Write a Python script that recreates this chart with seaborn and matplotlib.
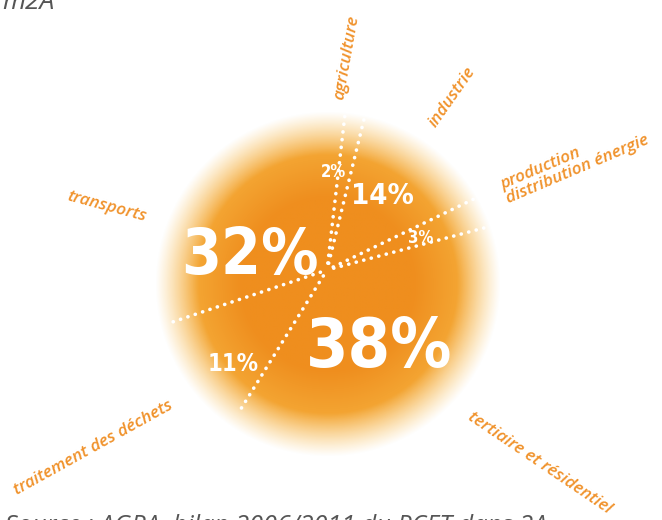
import numpy as np
import matplotlib
matplotlib.use("Agg")
import matplotlib.pyplot as plt
import seaborn as sns

# ---- data ----
sectors = ["production\ndistribution énergie", "industrie", "agriculture",
           "transports", "traitement des déchets", "tertiaire et résidentiel"]
shares = [3, 14, 2, 32, 11, 38]
title_text = "m2A"
source_text = "Source : AGRA, bilan 2006/2011 du PCET dans 2A"

sns.set_theme(style="white")
plt.rcParams["font.family"] = ["Open Sans", "DejaVu Sans"]

W, H = 662, 520
fig = plt.figure(figsize=(W / 100, H / 100), dpi=100)
ax = fig.add_axes([0, 0, 1, 1])

def Y(py):
    return H - py

# gradient disc
cx, cy, R = 328, Y(284), 173
n = 400
xs = np.linspace(-1, 1, n)
XX, YY = np.meshgrid(xs, xs)
rr = np.sqrt(XX ** 2 + YY ** 2)
c0 = np.array([239, 142, 30]) / 255
c1 = np.array([247, 182, 66]) / 255
t = np.clip((rr - 0.5) / 0.45, 0, 1)[..., None]
rgb = c0 * (1 - t) + c1 * t
alpha = np.clip((1.0 - rr) / 0.25, 0, 1) ** 1.1
img = np.dstack([rgb, alpha])
ax.imshow(img, extent=[cx - R, cx + R, cy - R, cy + R], origin="lower",
          zorder=1, interpolation="bilinear")

# pie (invisible wedges) to obtain sector boundaries
pcx, pcy = 327, Y(270)
wedges, _ = ax.pie(shares, startangle=15, counterclock=True, radius=R,
                   center=(pcx, pcy),
                   wedgeprops=dict(fill=False, linewidth=0))
for w in wedges:
    a = np.deg2rad(w.theta1)
    r0, r1 = 0.04 * R, 0.97 * R
    ax.plot([pcx + r0 * np.cos(a), pcx + r1 * np.cos(a)],
            [pcy + r0 * np.sin(a), pcy + r1 * np.sin(a)],
            color="white", lw=2.6, linestyle=(0, (0.05, 2.1)),
            dash_capstyle="round", zorder=3)

# percentage values inside
pct_pos = [(421, 238), (382, 196), (334, 172), (250, 256), (233, 364), (379, 348)]
pct_size = [12, 21, 12, 46, 17, 49]
for v, (px, py), fs in zip(shares, pct_pos, pct_size):
    ax.text(px, Y(py), f"{v}%", color="white", fontsize=fs, fontweight="bold",
            family="DejaVu Sans", fontstretch="condensed",
            ha="center", va="center", zorder=4)

# outside labels
lab_pos = [(510, 207, 23, "left"), (452, 97, 55, "center"), (347, 58, 80, "center"),
           (107, 207, -15, "center"), (93, 448, 29, "center"), (540, 463, -34, "center")]
orange = "#F0922B"
for name, (px, py, rot, ha) in zip(sectors, lab_pos):
    ax.text(px, Y(py), name, color=orange, fontsize=12.3, style="italic",
            fontweight="semibold",
            rotation=rot, ha=ha, va="center" if ha == "center" else "bottom",
            rotation_mode="anchor", linespacing=0.95, zorder=5)

# partial header / footer text (cut by the page edge, as in the original)
ax.text(2, Y(9), title_text, color="#555555", fontsize=19, style="italic",
        ha="left", va="baseline")
ax.text(5, Y(533), source_text, color="#555555", fontsize=18.2, style="italic",
        ha="left", va="baseline")

ax.set_xlim(0, W)
ax.set_ylim(0, H)
ax.set_aspect("auto")
ax.axis("off")
fig.savefig("out.png", dpi=100, facecolor="white")
